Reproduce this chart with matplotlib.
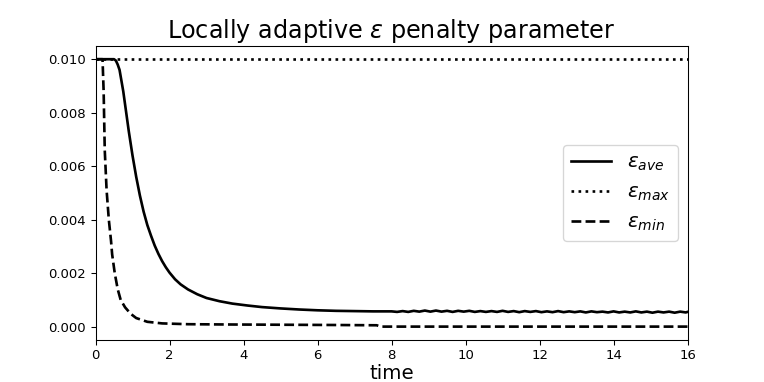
import matplotlib
matplotlib.use("Agg")
import matplotlib.pyplot as plt

# epsilon_ave
t_ave = [0.0, 0.3, 0.5, 0.55, 0.6, 0.65, 0.7, 0.75, 0.8, 0.9, 1.0, 1.1, 1.2, 1.3, 1.4,
         1.5, 1.6, 1.7, 1.8, 1.9, 2.0, 2.15, 2.3, 2.5, 2.75, 3.0, 3.35, 3.7, 4.1, 4.5,
         5.0, 5.5, 6.0, 6.5, 7.0, 7.5, 8.0,
         8.15, 8.3, 8.45, 8.6, 8.75, 8.9, 9.05, 9.2, 9.35, 9.5, 9.65, 9.8, 9.95, 10.1,
         10.25, 10.4, 10.55, 10.7, 10.85, 11.0, 11.15, 11.3, 11.45, 11.6, 11.75, 11.9,
         12.05, 12.2, 12.35, 12.5, 12.65, 12.8, 12.95, 13.1, 13.25, 13.4, 13.55, 13.7,
         13.85, 14.0, 14.15, 14.3, 14.45, 14.6, 14.75, 14.9, 15.05, 15.2, 15.35, 15.5,
         15.65, 15.8, 15.95, 16.0]
eps_ave = [0.0100, 0.0100, 0.0100, 0.00995, 0.0098, 0.0096, 0.0092, 0.0088, 0.0083,
           0.0073, 0.0064, 0.0056, 0.0049, 0.0043, 0.0038, 0.0034, 0.00303, 0.00272,
           0.00245, 0.00222, 0.00202, 0.00177, 0.00158, 0.00139, 0.00121, 0.00107,
           0.00095, 0.00086, 0.00079, 0.00073, 0.00068, 0.00064, 0.00061, 0.00059,
           0.00058, 0.00057, 0.00057,
           0.00055, 0.00058, 0.00055, 0.00059, 0.00056, 0.00060, 0.00056, 0.00060, 0.00056,
           0.00059, 0.00055, 0.00059, 0.00056, 0.00059,
           0.00055, 0.00058, 0.00055, 0.00058, 0.00055, 0.00059, 0.00055, 0.00058, 0.00054,
           0.00058, 0.00055, 0.00058, 0.00054, 0.00057, 0.00054, 0.00058, 0.00054, 0.00057,
           0.00054, 0.00057, 0.00053, 0.00057, 0.00054, 0.00056, 0.00053, 0.00057, 0.00053,
           0.00056, 0.00053, 0.00057, 0.00053, 0.00056, 0.00052, 0.00056, 0.00053, 0.00056,
           0.00052, 0.00056, 0.00053, 0.00055]

# epsilon_max is constant
t_max = [0.0, 16.0]
eps_max = [0.0100, 0.0100]

# epsilon_min
t_min = [0.0, 0.19, 0.22, 0.25, 0.3, 0.36, 0.42, 0.45, 0.52, 0.6, 0.68, 0.8, 0.95, 1.1,
         1.4, 1.8, 2.5, 3.5, 5.0, 6.5, 7.6, 7.7, 10.0, 16.0]
eps_min = [0.0100, 0.0100, 0.0088, 0.0066, 0.0051, 0.0040, 0.0032, 0.0027, 0.0020, 0.0014,
           0.0010, 0.00072, 0.00048, 0.00032, 0.00018, 0.00012, 0.00009, 0.00008, 0.00007,
           0.00006, 0.00005, 0.00000, 0.00000, 0.00000]

fig = plt.figure(figsize=(8, 4), dpi=95.5)
ax = fig.add_subplot(111)
ax.plot(t_ave, eps_ave, color="black", lw=2, ls="-", label=r"$\varepsilon_{ave}$")
ax.plot(t_max, eps_max, color="black", lw=2, ls=":", label=r"$\varepsilon_{max}$")
ax.plot(t_min, eps_min, color="black", lw=2, ls="--", label=r"$\varepsilon_{min}$")
ax.set_xlim(0, 16)
ax.set_ylim(-0.0005, 0.0105)
ax.set_xticks(range(0, 17, 2))
ax.set_yticks([0.000, 0.002, 0.004, 0.006, 0.008, 0.010])
ax.set_yticklabels(["0.000", "0.002", "0.004", "0.006", "0.008", "0.010"])
ax.set_xlabel("time", fontsize=15, labelpad=1)
ax.set_title(r"Locally adaptive $\varepsilon$ penalty parameter", fontsize=18)
ax.legend(loc="center right", fontsize=15)
fig.savefig("out.png", dpi=95.5)
